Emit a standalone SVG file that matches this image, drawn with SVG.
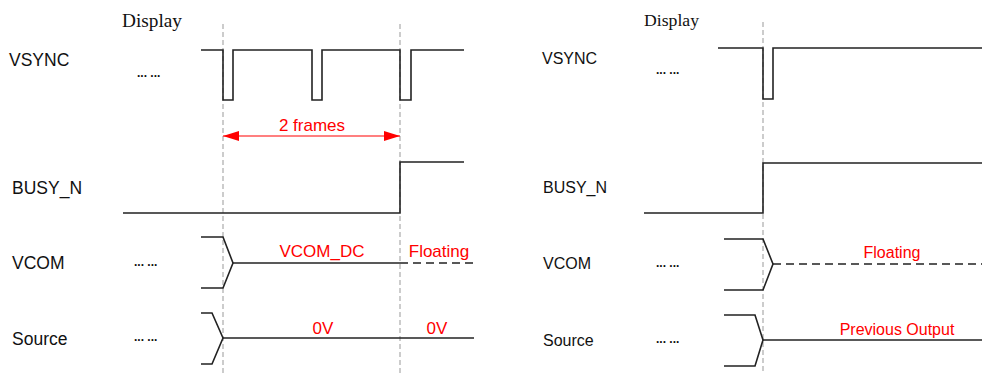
<svg xmlns="http://www.w3.org/2000/svg" width="984" height="374" viewBox="0 0 984 374">
<style>
.lbl{font-family:"Liberation Sans",Arial,sans-serif;fill:#111}
.l17{font-size:17.5px}
.l16{font-size:16px}
.red{font-family:"Liberation Sans",Arial,sans-serif;fill:#ff0000;text-anchor:middle}
.ser{font-family:"Liberation Serif","Times New Roman",serif;fill:#111}
.wave{fill:none;stroke:#222;stroke-width:1.6;stroke-linejoin:miter}
.dash{fill:none;stroke:#222;stroke-width:1.6;stroke-dasharray:8,5}
.guide{fill:none;stroke:#999;stroke-width:1;stroke-dasharray:5,3}
.dots{font-family:"Liberation Sans",Arial,sans-serif;font-size:12px;fill:#111;font-weight:bold}
</style>
<defs>
<marker id="ah" viewBox="0 0 16 10" refX="16" refY="5" markerWidth="16" markerHeight="10" markerUnits="userSpaceOnUse" orient="auto-start-reverse">
<path d="M0,0 L16,5 L0,10 Z" fill="#ff0000"/>
</marker>
</defs>
<rect width="984" height="374" fill="#fff"/>

<g id="guides">
<line class="guide" x1="223" y1="24" x2="223" y2="374"/>
<line class="guide" x1="400" y1="24" x2="400" y2="374"/>
<line class="guide" x1="763" y1="22" x2="763" y2="374"/>
</g>

<g id="left-panel">
<text class="ser" x="122" y="27" font-size="19.3">Display</text>
<g id="L-vsync">
<text class="lbl l17" x="9" y="66">VSYNC</text>
<text class="dots" x="137" y="77">... ...</text>
<path class="wave" d="M201,50 H223 V100 H233 V50 H312 V100 H322 V50 H400 V100 H411 V50 H464"/>
</g>
<g id="L-frames">
<line x1="223" y1="136" x2="400" y2="136" stroke="#ff0000" stroke-width="1.2" marker-start="url(#ah)" marker-end="url(#ah)"/>
<text class="red" x="312" y="131" font-size="17">2 frames</text>
</g>
<g id="L-busy">
<text class="lbl l17" x="12" y="194">BUSY_N</text>
<path class="wave" d="M123,213 H400 V162 H464"/>
</g>
<g id="L-vcom">
<text class="lbl l17" x="12" y="269">VCOM</text>
<text class="dots" x="134" y="266">... ...</text>
<path class="wave" d="M201,237 H223 L233,263 L223,288 H201"/>
<path class="wave" d="M233,263 H400"/>
<path class="dash" d="M400,263 H473"/>
<text class="red" x="322" y="257" font-size="17">VCOM_DC</text>
<text class="red" x="439" y="257" font-size="17">Floating</text>
</g>
<g id="L-source">
<text class="lbl l17" x="12" y="345">Source</text>
<text class="dots" x="134" y="341">... ...</text>
<path class="wave" d="M201,313 H212 L223,338 L212,364 H201"/>
<path class="wave" d="M223,338 H474"/>
<text class="red" x="323" y="334" font-size="17">0V</text>
<text class="red" x="437" y="334" font-size="17">0V</text>
</g>
</g>

<g id="right-panel">
<text class="ser" x="644" y="26" font-size="17.7">Display</text>
<g id="R-vsync">
<text class="lbl l16" x="542" y="64">VSYNC</text>
<text class="dots" x="656" y="74">... ...</text>
<path class="wave" d="M718,48 H763 V99 H773 V48 H982"/>
</g>
<g id="R-busy">
<text class="lbl l16" x="543" y="193">BUSY_N</text>
<path class="wave" d="M644,213 H763 V163 H982"/>
</g>
<g id="R-vcom">
<text class="lbl l16" x="543" y="269">VCOM</text>
<text class="dots" x="656" y="267">... ...</text>
<path class="wave" d="M724,239 H763 L773,264 L763,290 H724"/>
<path class="dash" d="M773,264 H982"/>
<text class="red" x="892" y="258" font-size="16">Floating</text>
</g>
<g id="R-source">
<text class="lbl l16" x="543" y="346">Source</text>
<text class="dots" x="656" y="343">... ...</text>
<path class="wave" d="M724,315 H755 L763,340 L755,366 H724"/>
<path class="wave" d="M763,340 H982"/>
<text class="red" x="897" y="335" font-size="16">Previous Output</text>
</g>
</g>
</svg>
